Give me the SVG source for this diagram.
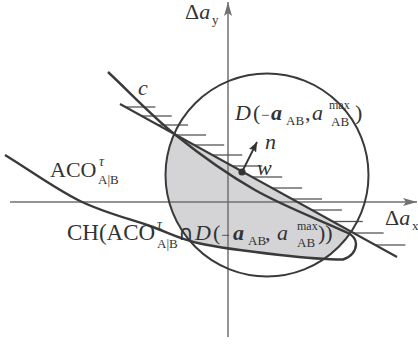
<svg xmlns="http://www.w3.org/2000/svg" width="418" height="345" viewBox="0 0 418 345">
<defs>
<style>
.t{font-family:"Liberation Serif","Times New Roman",serif;fill:#333;font-size:22px}
.i{font-style:italic}
.b{font-weight:bold;font-style:italic}
.s{font-size:13px}
.axis{stroke:#707070;stroke-width:1.5;fill:none}
.curve{stroke:#3a3a3a;stroke-width:2.4;fill:none}
.line{stroke:#3a3a3a;stroke-width:2;fill:none}
.hatch{stroke:#555;stroke-width:1.3}
</style>
<marker id="axhead" markerUnits="userSpaceOnUse" viewBox="0 0 14 8" refX="14" refY="4" markerWidth="14" markerHeight="8" orient="auto">
<path d="M0,0 L14,4 L0,8 L3,4 Z" fill="#707070"/>
</marker>
<marker id="nhead" markerUnits="userSpaceOnUse" viewBox="0 0 10 8" refX="10" refY="4" markerWidth="10" markerHeight="8" orient="auto">
<path d="M0,0 L10,4 L0,8 L2,4 Z" fill="#333"/>
</marker>
<clipPath id="hullclip">
<path d="M100,93 L420,269.7 L420,259.5 L343,259.5 C322,259.5 303.8,257.7 280,255 C256.2,252.3 221.7,248.3 200,243.5 C178.3,238.7 170,233.1 150,226 C130,218.9 104.2,212.8 80,201 C55.8,189.2 30,170.3 5,155 Z"/>
</clipPath>
</defs>
<rect width="418" height="345" fill="#fff"/>
<g id="hull">
<circle cx="267" cy="175" r="101.5" fill="#d4d4d6" clip-path="url(#hullclip)"/>
</g>
<g id="axes">
<line class="axis" x1="228" y1="337" x2="228" y2="2" marker-end="url(#axhead)"/>
<line class="axis" x1="10" y1="202" x2="417" y2="202" marker-end="url(#axhead)"/>
</g>
<g id="hatches">
<line class="hatch" x1="125.4" y1="107" x2="155.4" y2="107"/>
<line class="hatch" x1="141.7" y1="116" x2="171.7" y2="116"/>
<line class="hatch" x1="158" y1="125" x2="188" y2="125"/>
<line class="hatch" x1="176.1" y1="135" x2="206.1" y2="135"/>
<line class="hatch" x1="194.2" y1="145" x2="224.2" y2="145"/>
<line class="hatch" x1="212.3" y1="155" x2="242.3" y2="155"/>
<line class="hatch" x1="232.3" y1="166" x2="262.3" y2="166"/>
<line class="hatch" x1="252.2" y1="177" x2="282.2" y2="177"/>
<line class="hatch" x1="272.1" y1="188" x2="302.1" y2="188"/>
<line class="hatch" x1="292" y1="199" x2="322" y2="199"/>
<line class="hatch" x1="311.9" y1="210" x2="341.9" y2="210"/>
<line class="hatch" x1="332.7" y1="221.5" x2="362.7" y2="221.5"/>
<line class="hatch" x1="353.6" y1="233" x2="383.6" y2="233"/>
<line class="hatch" x1="375.3" y1="245" x2="405.3" y2="245"/>
</g>
<g id="disk">
<circle cx="267" cy="175" r="101.5" class="line"/>
</g>
<g id="constraint">
<line class="line" x1="120" y1="104" x2="397" y2="257"/>
</g>
<g id="aco">
<path class="curve" d="M108,72 C130.3,92.8 150.5,114.8 175,134.5 C199.5,154.2 226.2,173.6 255,190 C283.8,206.4 317,218.7 348,233 C352,235 356,239 356,244 C356,251 351,257 343,259.5 C322,259.5 303.8,257.7 280,255 C256.2,252.3 221.7,248.3 200,243.5 C178.3,238.7 170,233.1 150,226 C130,218.9 104.2,212.8 80,201 C55.8,189.2 30,170.3 5,155"/>
</g>
<g id="connectors">
<line x1="242" y1="172" x2="257" y2="142" stroke="#333" stroke-width="1.8" marker-end="url(#nhead)"/>
</g>
<g id="w-point">
<circle cx="242" cy="172" r="3.6" fill="#333"/>
</g>
<g id="labels">
<text class="t" x="185" y="19" font-size="20">Δ<tspan class="i">a</tspan><tspan class="s" x="212" y="24">y</tspan></text>
<text class="t" x="385" y="225" font-size="20">Δ<tspan class="i">a</tspan><tspan class="s" x="412" y="230">x</tspan></text>
<text class="t i" x="138" y="95" font-size="24">c</text>
<text class="t i" x="265" y="149" font-size="24">n</text>
<text class="t i" x="257" y="175" font-size="24">w</text>
<text class="t"><tspan class="i" x="235" y="120">D</tspan><tspan x="253" y="120">(</tspan><tspan x="261" y="120" font-size="15">−</tspan><tspan class="b" x="271" y="120">a</tspan><tspan class="s" x="286" y="125">AB</tspan><tspan x="305" y="120">,</tspan><tspan class="i" x="312" y="120">a</tspan><tspan x="329" y="109" font-size="12">max</tspan><tspan class="s" x="331" y="126">AB</tspan><tspan x="355" y="120">)</tspan></text>
<text class="t"><tspan x="50" y="177">ACO</tspan><tspan class="i" x="99" y="166" font-size="14">τ</tspan><tspan class="s" x="98" y="184">A|B</tspan></text>
<text class="t"><tspan x="67" y="240" font-size="23">CH(ACO</tspan><tspan class="i" x="157" y="229" font-size="14">τ</tspan><tspan class="s" x="157" y="248">A|B</tspan><tspan x="178" y="240" font-family="'DejaVu Sans',sans-serif" font-size="21">∩</tspan><tspan class="i" x="195" y="240">D</tspan><tspan x="213" y="240">(</tspan><tspan x="221" y="240" font-size="15">−</tspan><tspan class="b" x="233" y="240">a</tspan><tspan class="s" x="248" y="245">AB</tspan><tspan x="265" y="240">,</tspan><tspan class="i" x="277" y="240">a</tspan><tspan x="297" y="230" font-size="12">max</tspan><tspan class="s" x="297" y="247">AB</tspan><tspan x="318" y="240">))</tspan></text>
</g>
</svg>
